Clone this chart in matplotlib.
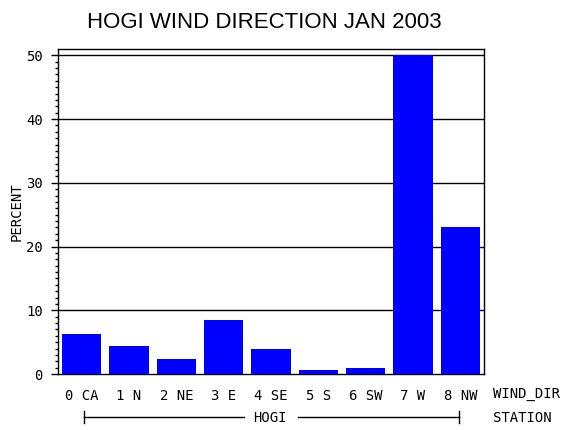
import matplotlib
matplotlib.use("Agg")
import matplotlib.pyplot as plt
import numpy as np

# ── Data ──────────────────────────────────────────────────────────────────────
wind_dir = ["0 CA", "1 N", "2 NE", "3 E", "4 SE", "5 S", "6 SW", "7 W", "8 NW"]
percent = [6.2, 4.4, 2.4, 8.4, 3.9, 0.6, 0.9, 50.0, 23.1]
y_ticks = [0, 10, 20, 30, 40, 50]
station = "HOGI"

MONO = "DejaVu Sans Mono"
FS = 10
BLUE = "#0000ff"

fig = plt.figure(figsize=(5.7, 4.3), dpi=100)
ax = fig.add_axes([58 / 570, 1 - 374 / 430, 426 / 570, 325 / 430])

x = np.arange(len(wind_dir))
ax.bar(x, percent, width=0.83, color=BLUE, edgecolor="none", zorder=3)

# reference lines at each major tick
for t in y_ticks[1:]:
    ax.axhline(t, color="black", linewidth=1.0, zorder=2)

ax.set_xlim(-0.5, len(wind_dir) - 0.5)
ax.set_ylim(0, 51)
ax.set_yticks(y_ticks)
ax.set_yticks(np.arange(0, 51, 1), minor=True)
ax.set_yticklabels([str(t) for t in y_ticks], fontfamily=MONO, fontsize=FS)
ax.tick_params(axis="y", which="major", direction="out", length=5, width=1, pad=6)
ax.tick_params(axis="y", which="minor", direction="out", length=2.5, width=1)

ax.set_xticks(x)
ax.set_xticklabels(wind_dir, fontfamily=MONO, fontsize=FS)
ax.tick_params(axis="x", length=0, pad=11)

for s in ax.spines.values():
    s.set_linewidth(1.0)
    s.set_color("black")

ax.set_ylabel("PERCENT", fontfamily=MONO, fontsize=FS)
ax.yaxis.set_label_coords(-34 / 426, 0.5)

fig.text(264 / 570, 1 - 22 / 430, "HOGI WIND DIRECTION JAN 2003",
         ha="center", va="center", fontsize=16, family="Liberation Sans")

# axis name labels on the right
fig.text(493 / 570, 1 - 394 / 430, "WIND_DIR", ha="left", va="center",
         fontfamily=MONO, fontsize=FS)
fig.text(493 / 570, 1 - 418 / 430, "STATION", ha="left", va="center",
         fontfamily=MONO, fontsize=FS)

# station bracket under the categories
y_br = 1 - 417 / 430
x0, x1 = 84 / 570, 459 / 570
xm = 270 / 570
fig.text(xm, 1 - 418 / 430, station, ha="center", va="center",
         fontfamily=MONO, fontsize=FS)
fig.add_artist(plt.Line2D([x0, 244 / 570], [y_br, y_br], color="black", lw=1))
fig.add_artist(plt.Line2D([298 / 570, x1], [y_br, y_br], color="black", lw=1))
for xe in (x0, x1):
    fig.add_artist(plt.Line2D([xe, xe], [y_br - 6 / 430, y_br + 6 / 430],
                              color="black", lw=1))

fig.savefig("out.png", dpi=100)
